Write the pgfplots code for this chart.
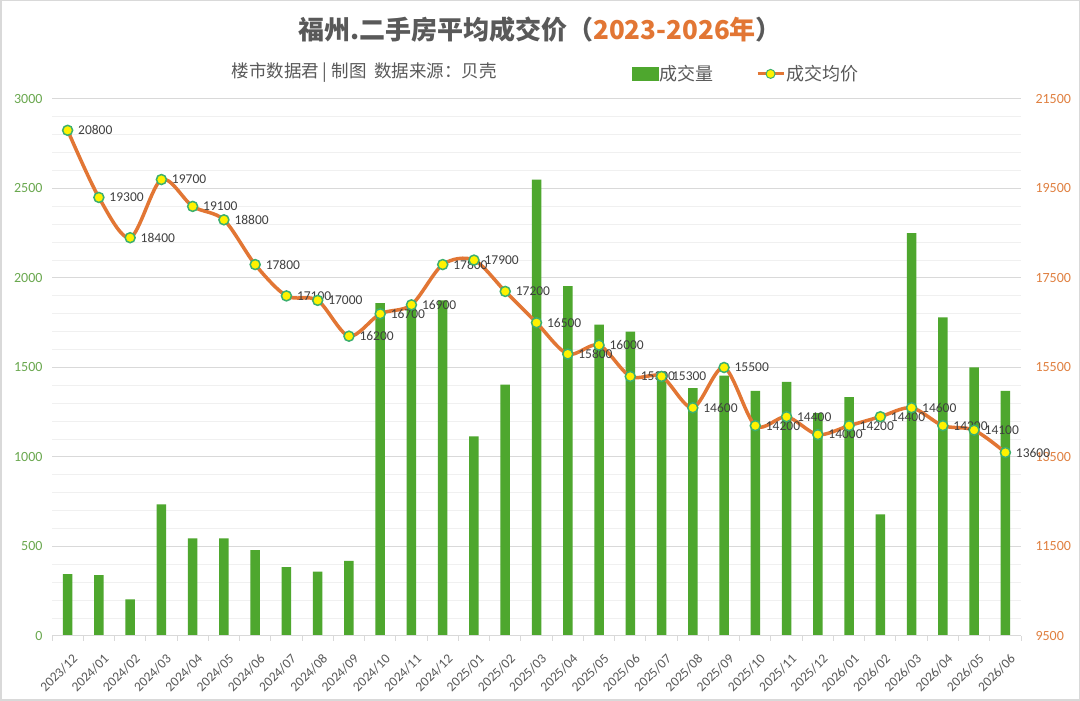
\documentclass[border=0pt]{standalone}
\usepackage{pgfplots}
\pgfplotsset{compat=1.18}
\usepackage{fontspec}
\setmainfont{Carlito}
\newfontfamily\cjk{Noto Sans CJK SC}
\definecolor{bargreen}{RGB}{78,167,46}
\definecolor{lineorange}{RGB}{226,118,52}
\definecolor{ticgreen}{RGB}{106,168,79}
\definecolor{ticorange}{RGB}{224,128,64}
\definecolor{txtgray}{RGB}{89,89,89}
\definecolor{lblgray}{RGB}{64,64,64}
\definecolor{mkedge}{RGB}{60,175,110}
\definecolor{gridmaj}{RGB}{217,217,217}
\definecolor{gridmin}{RGB}{240,240,240}

\pgfplotstableread{
x vol
0 345
1 340
2 205
3 735
4 545
5 545
6 480
7 385
8 360
9 420
10 1860
11 1830
12 1875
13 1115
14 1405
15 2550
16 1955
17 1740
18 1700
19 1475
20 1385
21 1455
22 1370
23 1420
24 1245
25 1335
26 680
27 2250
28 1780
29 1500
30 1370
}\voltable

\pgfplotstableread{
x price
0 20800
1 19300
2 18400
3 19700
4 19100
5 18800
6 17800
7 17100
8 17000
9 16200
10 16700
11 16900
12 17800
13 17900
14 17200
15 16500
16 15800
17 16000
18 15300
19 15300
20 14600
21 15500
22 14200
23 14400
24 14000
25 14200
26 14400
27 14600
28 14200
29 14100
30 13600
}\pricetable

\begin{document}
\begin{tikzpicture}
\path[use as bounding box] (0pt,0pt) rectangle (1080pt,701pt);
\fill[white] (0pt,0pt) rectangle (1080pt,701pt);
\draw[gridmaj, line width=1.5pt] (0.75pt,0.75pt) rectangle (1079.25pt,700.25pt);

\begin{axis}[
  at={(52pt,65pt)}, anchor=south west,
  width=969pt, height=537pt, scale only axis,
  xmin=-0.5, xmax=30.5,
  ymin=0, ymax=3000,
  axis x line*=bottom, axis y line*=left,
  x axis line style={draw=gridmaj, line width=1pt},
  y axis line style={draw=none},
  xtick={0,...,30},
  xticklabels={2023/12,2024/01,2024/02,2024/03,2024/04,2024/05,2024/06,2024/07,2024/08,2024/09,2024/10,2024/11,2024/12,2025/01,2025/02,2025/03,2025/04,2025/05,2025/06,2025/07,2025/08,2025/09,2025/10,2025/11,2025/12,2026/01,2026/02,2026/03,2026/04,2026/05,2026/06},
  xtick style={draw=none},
  ytick style={draw=none},
  ytick={0,100,...,3000},
  yticklabels={},
  extra y ticks={0,500,...,3000},
  extra y tick style={grid style={draw=gridmaj, line width=1pt}},
  ymajorgrids,
  grid style={draw=gridmin, line width=1pt},
  scaled y ticks=false,
  /pgf/number format/assume math mode=true,
  /pgf/number format/1000 sep={},
  yticklabel style={font=\fontsize{14}{16}\selectfont, color=ticgreen, xshift=-6pt},
  xticklabel style={font=\fontsize{13.5}{15}\selectfont, color=txtgray, xshift=4pt, yshift=-8pt, rotate=45, anchor=north east},
  ybar, bar width=9.5pt,
]
\addplot[fill=bargreen, draw=none, bar shift=0pt] table[x=x, y=vol] {\voltable};
\end{axis}

\begin{axis}[
  at={(52pt,65pt)}, anchor=south west,
  width=969pt, height=537pt, scale only axis,
  xmin=-0.5, xmax=30.5,
  ymin=9500, ymax=21500,
  axis x line*=bottom, axis y line*=right,
  x axis line style={draw=gridmaj, line width=1pt},
  y axis line style={draw=none},
  xtick={-0.5,0.5,...,30.5},
  xticklabels={},
  major tick length=5pt,
  tick align=outside,
  xtick style={draw=gridmaj, line width=1pt},
  ytick style={draw=none},
  ytick={9500,11500,...,21500},
  scaled y ticks=false,
  /pgf/number format/assume math mode=true,
  /pgf/number format/1000 sep={},
  yticklabel style={font=\fontsize{14}{16}\selectfont, color=ticorange, xshift=6pt, /pgf/number format/fixed},
  legend columns=2,
  legend style={at={(0.598,1)}, anchor=south west, yshift=15.5pt, draw=none, fill=none,
    font=\cjk\fontsize{18}{21}\selectfont, text=txtgray,
    /tikz/every even column/.append style={column sep=42pt},
    inner sep=0pt, nodes={inner sep=1pt}},
]
\addlegendimage{legend image code/.code={\fill[bargreen] (0pt,-6.5pt) rectangle (26pt,6.5pt);}}
\addlegendentry{成交量}
\addplot[smooth, tension=0.5, color=lineorange, line width=3.5pt,
  mark=*, mark size=5pt, mark options={fill=yellow, draw=mkedge, line width=1.5pt},
  nodes near coords, point meta=y,
  nodes near coords style={anchor=west, xshift=6.5pt, font=\fontsize{13.5}{15}\selectfont, color=lblgray, /pgf/number format/fixed},
  legend image code/.code={\draw[lineorange, line width=3pt] (0pt,0pt) -- (26pt,0pt); \draw[fill=yellow, draw=mkedge, line width=1pt] (13pt,0pt) circle (4.5pt);}
] table[x=x, y=price] {\pricetable};
\addlegendentry{成交均价}
\end{axis}

\node[font=\cjk\bfseries\fontsize{26}{30}\selectfont, text=txtgray] at (540pt,671pt) {福州.二手房平均成交价（\textcolor{lineorange}{2023-2026年}）};
\node[font=\cjk\fontsize{17.5}{20}\selectfont, text=txtgray, anchor=west] at (228pt,628pt) {楼市数据君 | 制图\ \ 数据来源：贝壳};
\end{tikzpicture}
\end{document}
